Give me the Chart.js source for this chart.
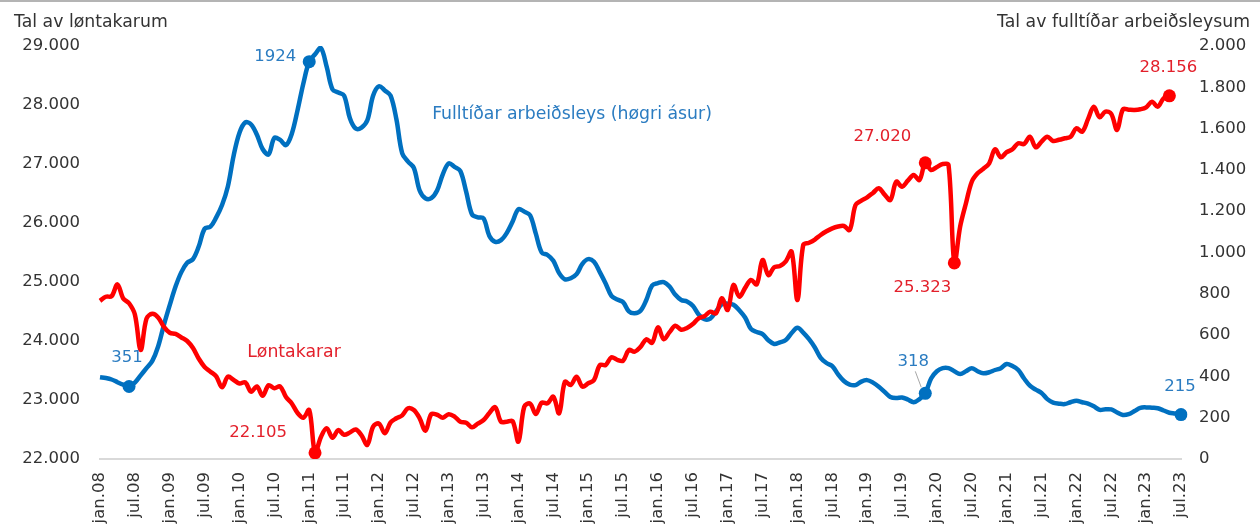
<!DOCTYPE html>
<html>
<head>
<meta charset="utf-8">
<script src="https://cdn.jsdelivr.net/npm/chart.js@4.4.0/dist/chart.umd.min.js"></script>
<style>
  html, body { margin: 0; padding: 0; background: #fff; overflow: hidden; }
  #wrap { width: 1260px; height: 527px; position: relative; }
</style>
</head>
<body>
<div id="wrap"><canvas id="chart" width="1260" height="527"></canvas></div>
<script>
// month labels jan.08 .. jul.23
const monthNames = ['jan', 'feb', 'mar', 'apr', 'mai', 'jun', 'jul', 'aug', 'sep', 'okt', 'nov', 'des'];
const years = ['08', '09', '10', '11', '12', '13', '14', '15', '16', '17', '18', '19', '20', '21', '22', '23'];
const labels = [];
years.forEach(y => monthNames.forEach(m => labels.push(m + '.' + y)));
labels.length = 187;

// Fulltíðar arbeiðsleys (right axis), one row per year
const unemployed = [
  396, 392, 385, 372, 360, 351, 370, 405, 440, 475, 545, 650,
  745, 835, 905, 950, 968, 1030, 1115, 1125, 1170, 1230, 1320, 1470,
  1580, 1630, 1620, 1570, 1500, 1475, 1555, 1545, 1520, 1575, 1690, 1820,
  1924, 1960, 1990, 1900, 1790, 1775, 1760, 1650, 1600, 1605, 1640, 1760,
  1805, 1785, 1760, 1645, 1480, 1440, 1410, 1300, 1262, 1263, 1300, 1380,
  1432, 1415, 1395, 1295, 1185, 1170, 1165, 1080, 1052, 1060, 1095, 1150,
  1210, 1198, 1180, 1090, 1000, 988, 960, 900, 870, 875, 895, 945,
  968, 955, 905, 850, 790, 772, 760, 715, 706, 718, 770, 840,
  852, 857, 835, 795, 770, 763, 742, 700, 677, 680, 715, 750,
  752, 747, 720, 685, 630, 615, 605, 575, 557, 565, 576, 610,
  635, 612, 580, 540, 490, 465, 450, 410, 378, 360, 358, 375,
  382, 370, 350, 325, 300, 295, 298, 288, 275, 290, 318, 390,
  425, 440, 440, 425, 412, 425, 440, 425, 415, 420, 431, 440,
  460, 450, 431, 390, 355, 336, 320, 290, 273, 268, 266, 275,
  282, 275, 268, 255, 238, 241, 240, 225, 213, 217, 232, 248,
  250, 248, 246, 235, 224, 220, 215
];

// Løntakarar (left axis), ends may.23
const employees = [
  24680, 24750, 24760, 24960, 24720, 24640, 24450, 23850, 24380, 24460, 24400, 24240,
  24140, 24120, 24060, 24000, 23880, 23700, 23560, 23480, 23400, 23215, 23395, 23340,
  23280, 23300, 23140, 23230, 23070, 23250, 23200, 23230, 23050, 22940, 22780, 22700,
  22830, 22105, 22370, 22520, 22360, 22490, 22410, 22450, 22500, 22400, 22240, 22550,
  22600, 22436, 22620, 22690, 22740, 22860, 22830, 22690, 22480, 22760, 22750, 22700,
  22760, 22720, 22632, 22615, 22537, 22600, 22661, 22780, 22876, 22632, 22632, 22640,
  22293, 22886, 22940, 22763, 22954, 22944, 23056, 22775, 23310, 23254, 23395, 23226,
  23283, 23339, 23593, 23593, 23724, 23680, 23666, 23848, 23819, 23900, 24029, 23972,
  24232, 24030, 24150, 24260, 24190, 24220, 24288, 24385, 24420, 24497, 24469, 24724,
  24526, 24949, 24751, 24900, 25034, 24961, 25373, 25119, 25249, 25271, 25350, 25514,
  24695, 25627, 25666, 25720, 25797, 25860, 25910, 25940, 25949, 25882, 26305, 26380,
  26436, 26510, 26588, 26480, 26390, 26700, 26616, 26717, 26814, 26729, 27020, 26898,
  26950, 27000, 26983, 25323, 25938, 26334, 26700, 26843, 26920, 27012, 27250, 27114,
  27200, 27250, 27351, 27339, 27463, 27283, 27380, 27463, 27390, 27410, 27436, 27463,
  27605, 27548, 27760, 27971, 27792, 27887, 27850, 27577, 27927, 27920, 27916, 27927,
  27960, 28056, 27971, 28114, 28156
];

// marked points (index into the month list)
const unemployedMarks = [5, 36, 142, 186];
const employeesMarks = [37, 142, 147, 184];

const BLUE = '#0070C0';
const BLUE_TXT = '#2B7CC1';
const RED = '#FF0000';
const RED_TXT = '#E3202B';
const FONT = '"DejaVu Sans", Verdana, sans-serif';

const fmt = v => Number(v).toLocaleString('de-DE');

// label placement for marked points: dataset, index, offset of text centre from the dot
const pointLabels = [
  { ds: 0, i: 5,   dx: -2,  dy: -29, text: v => String(v) },
  { ds: 0, i: 36,  dx: -34, dy: -5,  text: v => String(v) },
  { ds: 0, i: 142, dx: -12, dy: -32, text: v => String(v), leader: true },
  { ds: 0, i: 186, dx: -1,  dy: -28, text: v => String(v) },
  { ds: 1, i: 37,  dx: -57, dy: -20, text: fmt },
  { ds: 1, i: 142, dx: -43, dy: -26, text: fmt },
  { ds: 1, i: 147, dx: -32, dy: 25,  text: fmt },
  { ds: 1, i: 184, dx: -1,  dy: -28, text: fmt }
];

const overlay = {
  id: 'overlay',
  afterDatasetsDraw(chart) {
    const ctx = chart.ctx;
    const area = chart.chartArea;
    ctx.save();
    // thin rule at the very top
    ctx.fillStyle = '#b4b4b4';
    ctx.fillRect(0, 0, chart.width, 2);

    ctx.font = '17.3px ' + FONT;
    ctx.textBaseline = 'middle';
    ctx.fillStyle = '#333';
    ctx.textAlign = 'left';
    ctx.fillText('Tal av løntakarum', 14, 23);
    ctx.textAlign = 'right';
    ctx.fillText('Tal av fulltíðar arbeiðsleysum', 1250, 23);

    // series names
    ctx.textAlign = 'center';
    ctx.fillStyle = BLUE_TXT;
    ctx.fillText('Fulltíðar arbeiðsleys (høgri ásur)', area.left + 472, area.top + 69);
    ctx.fillStyle = RED_TXT;
    ctx.fillText('Løntakarar', area.left + 194, area.top + 307);

    ctx.font = '16.5px ' + FONT;
    pointLabels.forEach(p => {
      const el = chart.getDatasetMeta(p.ds).data[p.i];
      if (!el) return;
      const v = chart.data.datasets[p.ds].data[p.i];
      if (p.leader) {
        ctx.strokeStyle = '#a6a6a6';
        ctx.lineWidth = 1;
        ctx.beginPath();
        ctx.moveTo(el.x + p.dx + 2, el.y + p.dy + 10);
        ctx.lineTo(el.x - 4, el.y - 6);
        ctx.stroke();
      }
      ctx.fillStyle = p.ds === 0 ? BLUE_TXT : RED_TXT;
      ctx.fillText(p.text(v), el.x + p.dx, el.y + p.dy);
    });
    ctx.restore();
  }
};

new Chart(document.getElementById('chart'), {
  type: 'line',
  data: {
    labels: labels,
    datasets: [
      {
        label: 'Fulltíðar arbeiðsleys',
        data: unemployed,
        yAxisID: 'y1',
        order: 1,
        borderColor: BLUE,
        backgroundColor: BLUE,
        borderWidth: 4.5,
        tension: 0.35,
        pointRadius: c => unemployedMarks.includes(c.dataIndex) ? 6.5 : 0,
        pointBorderWidth: 0,
        pointBackgroundColor: BLUE
      },
      {
        label: 'Løntakarar',
        data: employees,
        yAxisID: 'y',
        order: 0,
        borderColor: RED,
        backgroundColor: RED,
        borderWidth: 4.5,
        tension: 0.35,
        pointRadius: c => employeesMarks.includes(c.dataIndex) ? 6.5 : 0,
        pointBorderWidth: 0,
        pointBackgroundColor: RED
      }
    ]
  },
  options: {
    responsive: false,
    animation: false,
    events: [],
    layout: { padding: { top: 46, left: 0, right: 0, bottom: 0 } },
    plugins: {
      legend: { display: false },
      tooltip: { enabled: false },
      title: { display: false }
    },
    scales: {
      x: {
        grid: { display: false, drawTicks: false },
        border: { display: true, color: '#d9d9d9', width: 2 },
        ticks: {
          autoSkip: false,
          minRotation: 90,
          maxRotation: 90,
          padding: 13,
          color: '#333',
          font: { family: FONT, size: 16.5 },
          callback: function(val, i) {
            return i % 6 === 0 ? labels[i] : '';
          }
        },
        afterFit: s => { s.height = 68; }
      },
      y: {
        position: 'left',
        min: 22000,
        max: 29000,
        grid: { display: false, drawTicks: false },
        border: { display: false },
        ticks: {
          stepSize: 1000,
          padding: 20,
          color: '#333',
          font: { family: FONT, size: 16.5 },
          callback: v => fmt(v)
        },
        afterFit: s => { s.width = 100; }
      },
      y1: {
        position: 'right',
        min: 0,
        max: 2000,
        grid: { display: false, drawTicks: false },
        border: { display: false },
        ticks: {
          stepSize: 200,
          padding: 18,
          color: '#333',
          font: { family: FONT, size: 16.5 },
          callback: v => fmt(v)
        },
        afterFit: s => { s.width = 79; }
      }
    }
  },
  plugins: [overlay]
});
</script>
</body>
</html>
